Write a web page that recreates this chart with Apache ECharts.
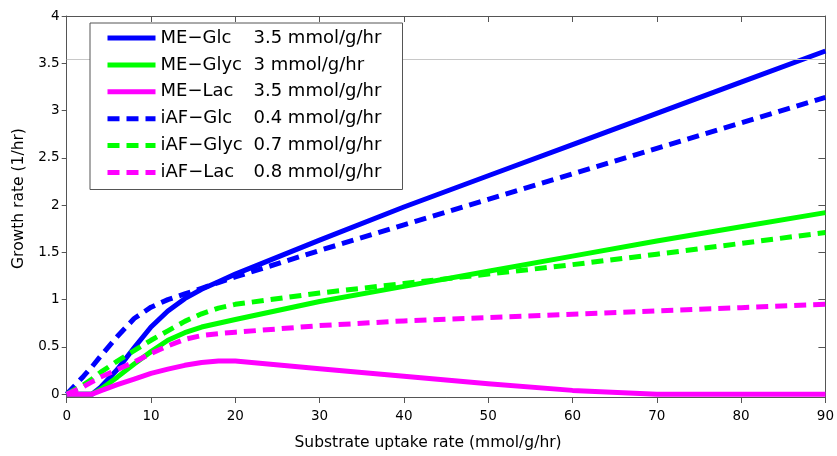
<!DOCTYPE html>
<html>
<head>
<meta charset="utf-8">
<script src="https://cdn.jsdelivr.net/npm/echarts@6/dist/echarts.min.js"></script>
<style>
  html, body { margin: 0; padding: 0; background: #fff; }
  #chart { width: 837px; height: 456px; }
</style>
</head>
<body>
<div id="chart"></div>
<script>
// Substrate uptake rate (mmol/g/hr) sample points shared by every curve
const uptake = [0, 2, 3, 4, 6, 8, 10, 12, 14, 16, 18, 20, 30, 40, 50, 60, 70, 80, 90];

// Growth rate (1/hr) for each model / substrate
const meGlc   = [0, 0, 0, 0.07, 0.26, 0.49, 0.71, 0.88, 1.01, 1.11, 1.19, 1.27, 1.63, 1.98, 2.31, 2.64, 2.97, 3.30, 3.63];
const meGlyc  = [0, 0, 0, 0.05, 0.18, 0.32, 0.45, 0.57, 0.65, 0.71, 0.75, 0.79, 0.98, 1.14, 1.30, 1.46, 1.62, 1.77, 1.92];
const meLac   = [0, 0, 0, 0.035, 0.10, 0.16, 0.22, 0.265, 0.305, 0.335, 0.35, 0.35, 0.27, 0.19, 0.11, 0.04, 0, 0, 0];
const iafGlc  = [0, 0.19, 0.29, 0.40, 0.61, 0.80, 0.92, 1.00, 1.06, 1.12, 1.18, 1.24, 1.52, 1.79, 2.06, 2.33, 2.60, 2.87, 3.14];
const iafGlyc = [0, 0.10, 0.16, 0.23, 0.35, 0.46, 0.57, 0.67, 0.77, 0.85, 0.91, 0.95, 1.07, 1.17, 1.27, 1.37, 1.48, 1.595, 1.71];
const iafLac  = [0, 0.08, 0.13, 0.18, 0.26, 0.34, 0.43, 0.51, 0.58, 0.62, 0.64, 0.655, 0.725, 0.775, 0.81, 0.845, 0.88, 0.915, 0.95];

const seriesNames  = ['ME\u2212Glc', 'ME\u2212Glyc', 'ME\u2212Lac', 'iAF\u2212Glc', 'iAF\u2212Glyc', 'iAF\u2212Lac'];
const uptakeLabels = ['3.5 mmol/g/hr', '3 mmol/g/hr', '3.5 mmol/g/hr', '0.4 mmol/g/hr', '0.7 mmol/g/hr', '0.8 mmol/g/hr'];
const seriesValues = [meGlc, meGlyc, meLac, iafGlc, iafGlyc, iafLac];

// Axis ticks
const xTicks = [0, 10, 20, 30, 40, 50, 60, 70, 80, 90];
const yTicks = [0, 0.5, 1, 1.5, 2, 2.5, 3, 3.5, 4];
const refLineY = 3.543;

const colors = ['#0000ff', '#00ff00', '#ff00ff', '#0000ff', '#00ff00', '#ff00ff'];
const dashed = [false, false, false, true, true, true];
const FONT = 'DejaVu Sans';
const AXIS_COLOR = '#555';

const chart = echarts.init(document.getElementById('chart'), null, { renderer: 'canvas' });

const series = seriesValues.map((vals, i) => ({
  name: seriesNames[i],
  type: 'line',
  xAxisIndex: 0,
  yAxisIndex: 0,
  data: vals.map((v, k) => [uptake[k], v]),
  showSymbol: false,
  symbol: 'none',
  animation: false,
  lineStyle: {
    color: colors[i],
    width: 5,
    type: dashed[i] ? [12, 7] : 'solid',
    cap: 'butt',
    join: 'round'
  },
  itemStyle: { color: colors[i] },
  z: 2 + i * 0.01,
  markLine: i === 0 ? {
    silent: true,
    symbol: 'none',
    label: { show: false },
    lineStyle: { color: '#c8c8c8', width: 1, type: 'solid' },
    data: [{ yAxis: refLineY }],
    animation: false
  } : undefined
}));

const xMin = 0, xMax = 90, yMin = -0.03, yMax = 4;

chart.setOption({
  animation: false,
  backgroundColor: '#fff',
  grid: { left: 66.7, right: 7, top: 16, bottom: 57.7, containLabel: false },
  legend: {
    orient: 'vertical',
    left: 90,
    top: 23,
    padding: [4, 14, 6, 15],
    itemWidth: 48,
    itemHeight: 22,
    itemGap: 4.9,
    backgroundColor: '#fff',
    borderColor: AXIS_COLOR,
    borderWidth: 1,
    borderRadius: 0,
    z: 10,
    selectedMode: false,
    lineStyle: { width: 5 },
    itemStyle: { opacity: 0, borderWidth: 0 },
    data: seriesNames,
    formatter: function (name) {
      const i = seriesNames.indexOf(name);
      return '{a|' + name + '}{b|' + uptakeLabels[i] + '}';
    },
    textStyle: {
      color: '#000',
      fontFamily: FONT,
      fontSize: 18,
      lineHeight: 22,
      rich: {
        a: { width: 93, fontFamily: FONT, fontSize: 18, lineHeight: 22, color: '#000' },
        b: { width: 135, fontFamily: FONT, fontSize: 18, lineHeight: 22, color: '#000' }
      }
    }
  },
  xAxis: [
    {
      type: 'value',
      position: 'bottom',
      min: xMin, max: xMax, interval: 10,
      name: 'Substrate uptake rate (mmol/g/hr)',
      nameLocation: 'middle',
      nameGap: 38,
      nameTextStyle: { fontFamily: FONT, fontSize: 15.5, color: '#000', padding: [0, 36, 0, 0] },
      axisLine: { show: true, onZero: false, lineStyle: { color: AXIS_COLOR, width: 1 } },
      axisTick: { show: true, inside: false, length: 6, lineStyle: { color: AXIS_COLOR } },
      axisLabel: {
        show: true, margin: 12, color: '#000', fontFamily: FONT, fontSize: 13.5,
        formatter: v => xTicks.includes(v) ? String(v) : ''
      },
      splitLine: { show: false }
    },
    {
      type: 'value',
      position: 'top',
      min: xMin, max: xMax, interval: 10,
      axisLine: { show: true, onZero: false, lineStyle: { color: AXIS_COLOR, width: 1 } },
      axisTick: { show: true, inside: true, length: 6, lineStyle: { color: AXIS_COLOR } },
      axisLabel: { show: false },
      splitLine: { show: false }
    }
  ],
  yAxis: [
    {
      type: 'value',
      position: 'left',
      min: yMin, max: yMax,
      name: 'Growth rate (1/hr)',
      nameLocation: 'middle',
      nameGap: 36,
      nameRotate: 90,
      nameTextStyle: { fontFamily: FONT, fontSize: 15.5, color: '#000', padding: [0, 0, 0, 16] },
      axisLine: { show: true, onZero: false, lineStyle: { color: AXIS_COLOR, width: 1 } },
      axisTick: { show: true, inside: false, length: 5, customValues: yTicks, lineStyle: { color: AXIS_COLOR } },
      axisLabel: {
        show: true, margin: 7, color: '#000', fontFamily: FONT, fontSize: 13.5,
        customValues: yTicks,
        formatter: v => String(v)
      },
      splitLine: { show: false }
    },
    {
      type: 'value',
      position: 'right',
      min: yMin, max: yMax,
      axisLine: { show: true, onZero: false, lineStyle: { color: AXIS_COLOR, width: 1 } },
      axisTick: { show: true, inside: true, length: 7, customValues: yTicks, lineStyle: { color: AXIS_COLOR } },
      axisLabel: { show: false },
      splitLine: { show: false }
    }
  ],
  series: series
});
</script>
</body>
</html>
